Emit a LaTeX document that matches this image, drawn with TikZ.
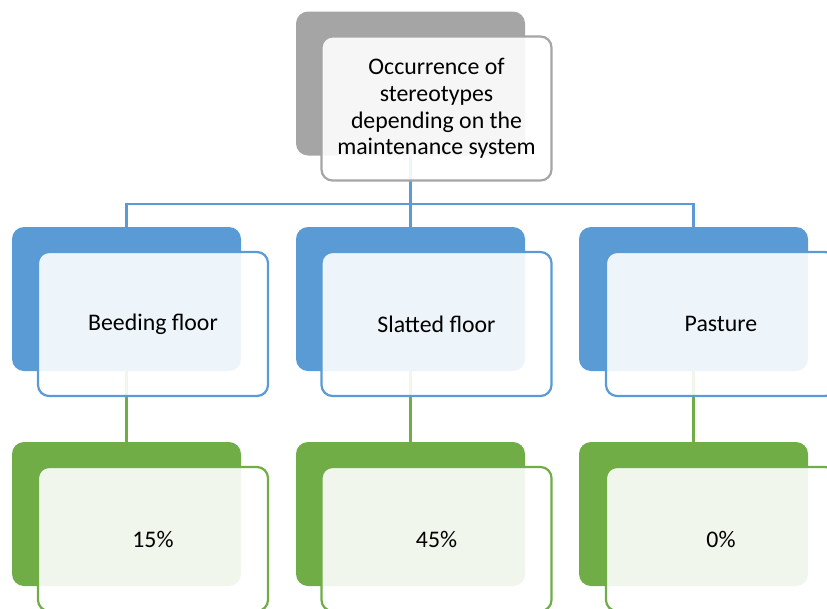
\documentclass[tikz,border=0pt]{standalone}
\usepackage{fontspec}
\setmainfont{Carlito}
\definecolor{sgray}{HTML}{A5A5A5}
\definecolor{sblue}{HTML}{5B9BD5}
\definecolor{sgreen}{HTML}{70AD47}
\begin{document}
\begin{tikzpicture}[x=1pt,y=-1pt,
  backbox/.style={draw=none,rounded corners=12pt,minimum width=229pt,minimum height=144pt,inner sep=0pt},
  frontbox/.style={draw=#1,line width=2.2pt,fill=white,fill opacity=0.9,text opacity=1,rounded corners=11pt,
     minimum width=230pt,minimum height=144pt,inner sep=0pt,align=center,
     font=\fontsize{23.8}{26.7}\selectfont},
  link/.style={draw=#1,line width=2.4pt}]
\useasboundingbox (0,0) rectangle (827,608);
\clip (0,0) rectangle (827,608);
% back boxes
\node[backbox,fill=sgray] (tb) at (410.5,83.5) {};
\node[backbox,fill=sblue] (b1) at (126.5,299) {};
\node[backbox,fill=sblue] (b2) at (410.5,299) {};
\node[backbox,fill=sblue] (b3) at (693.5,299) {};
\node[backbox,fill=sgreen] (g1) at (126.5,514) {};
\node[backbox,fill=sgreen] (g2) at (410.5,514) {};
\node[backbox,fill=sgreen] (g3) at (693.5,514) {};
% connectors
\coordinate (j) at (410.5,204);
\draw[link=sblue] (tb.south) -- (j);
\draw[link=sblue] (b1.north) |- (j) -| (b3.north);
\draw[link=sblue] (j) -- (b2.north);
\draw[link=sgreen] (b1.south) -- (g1.north);
\draw[link=sgreen] (b2.south) -- (g2.north);
\draw[link=sgreen] (b3.south) -- (g3.north);
% front boxes
\node[frontbox=sgray] (tf) at (436.5,108.5) {Occurrence of\\stereotypes\\depending on the\\maintenance system};
\node[frontbox=sblue] (f1) at (153,324) {Beeding floor};
\node[frontbox=sblue] (f2) at (436.5,324) {Slatted floor};
\node[frontbox=sblue] (f3) at (721,324) {Pasture};
\node[frontbox=sgreen] (h1) at (153,539) {15\%};
\node[frontbox=sgreen] (h2) at (436.5,539) {45\%};
\node[frontbox=sgreen] (h3) at (721,539) {0\%};
\end{tikzpicture}
\end{document}
